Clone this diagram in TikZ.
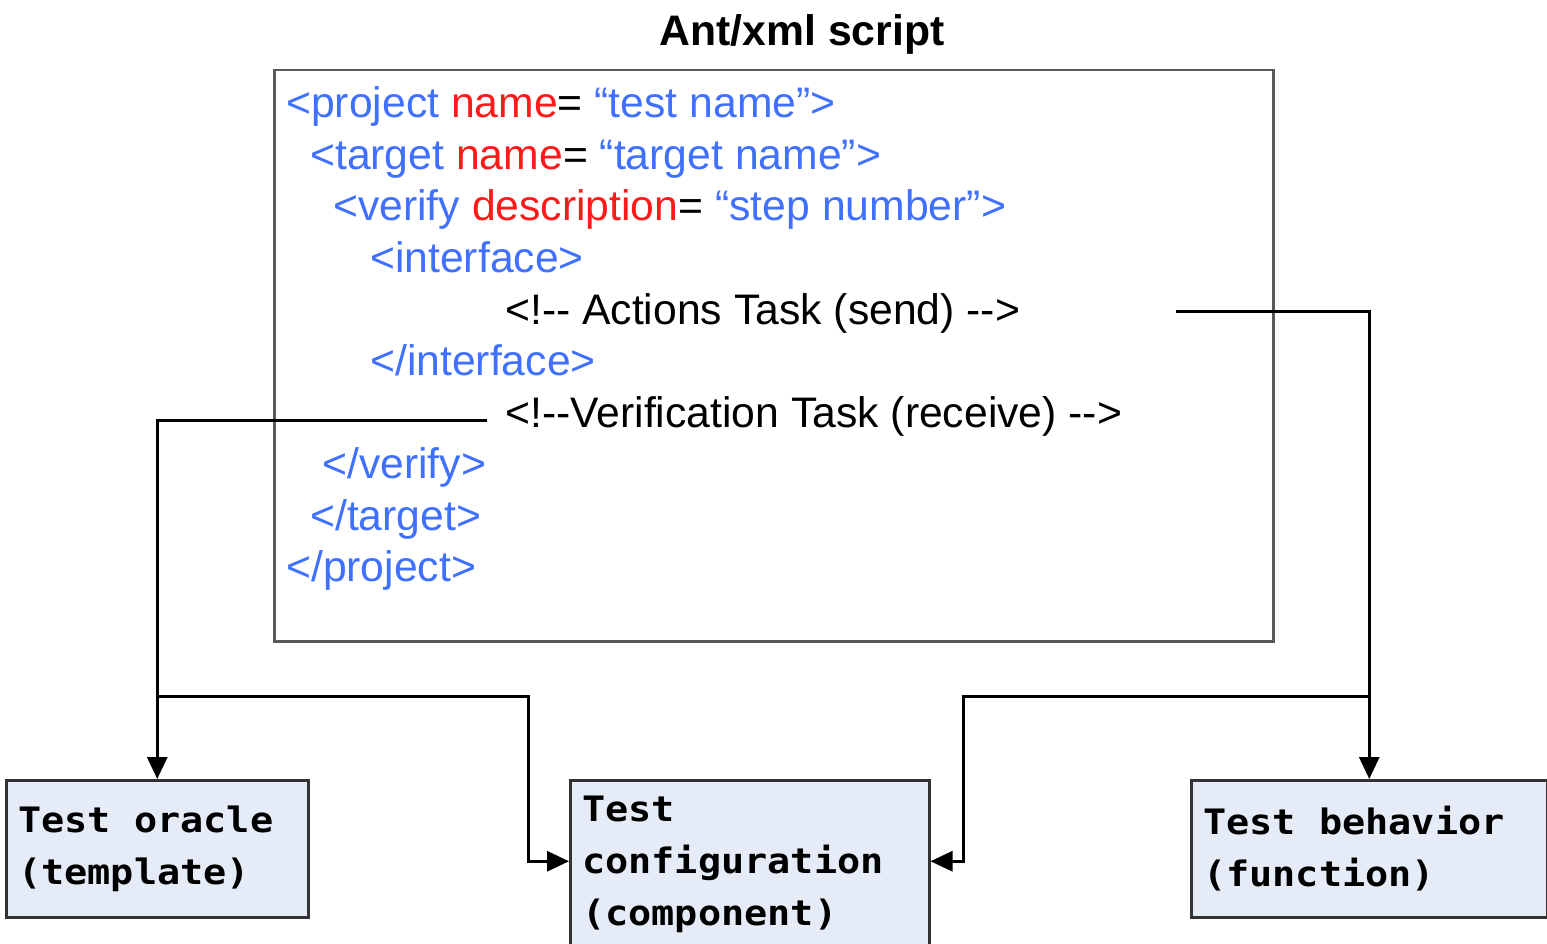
\documentclass[tikz,border=0pt]{standalone}
\usepackage{fontspec}
\usetikzlibrary{arrows.meta}
\newfontfamily\codefont{Liberation Sans}
\newfontfamily\boxfont{DejaVu Sans Mono}[FakeStretch=1.1]
\definecolor{tagblue}{HTML}{4070FF}
\definecolor{attrred}{HTML}{FF1A1A}
\definecolor{boxfill}{HTML}{E6ECF7}
\definecolor{frame}{HTML}{5A5A5A}
% two hyphens that must not merge into a dash
\newcommand{\hh}{-\kern0pt-}
% a blank as wide as one monospaced character
\newcommand{\msp}{\phantom{x}}

\begin{document}
\begin{tikzpicture}[x=1pt,y=-1pt,
  code/.style={anchor=base west, inner sep=0pt,
    font=\codefont\fontsize{42.7}{51}\selectfont},
  conn/.style={line width=3pt, -{Triangle[length=22pt,width=20pt]}},
  outbox/.style={draw=black!80, line width=2.5pt, fill=boxfill,
    anchor=north west, align=left, inner xsep=12pt, inner ysep=0pt,
    font=\boxfont\bfseries\fontsize{35}{52}\selectfont}
]
\useasboundingbox (0,0) rectangle (1547,944);
\clip (0,0) rectangle (1547,944);
\fill[white] (0,0) rectangle (1547,944);

% title and script frame
\node[anchor=base, inner sep=0pt, font=\codefont\bfseries\fontsize{42.7}{51}\selectfont]
  (title) at (802,46) {Ant/xml script};
\node[draw=frame, line width=2.5pt, anchor=north west, inner sep=0pt,
  minimum width=999pt, minimum height=571pt] (script) at (273,69) {};

% script lines
\node[code] (l1) at (286,118) {\textcolor{tagblue}{<project }\textcolor{attrred}{name}= \textcolor{tagblue}{“test name”>}};
\node[code] (l2) at (310,169.5) {\textcolor{tagblue}{<target }\textcolor{attrred}{name}= \textcolor{tagblue}{“target name”>}};
\node[code] (l3) at (333,221) {\textcolor{tagblue}{<verify }\textcolor{attrred}{description}= \textcolor{tagblue}{“step number”>}};
\node[code] (l4) at (370,272.5) {\textcolor{tagblue}{<interface>}};
\node[code] (l5) at (505,324) {<!\hh{} Actions Task (send) \hh>};
\node[code] (l6) at (370,375.5) {\textcolor{tagblue}{</interface>}};
\node[code] (l7) at (505,427) {<!\hh Verification Task (receive) \hh>};
\node[code] (l8) at (322,478.5) {\textcolor{tagblue}{</verify>}};
\node[code] (l9) at (310,530) {\textcolor{tagblue}{</target>}};
\node[code] (l10) at (286,581.5) {\textcolor{tagblue}{</project>}};

% output boxes
\node[outbox, text width=278pt, minimum height=137pt] (oracle) at (5,779)
  {Test\msp oracle\\(template)};
\node[outbox, text width=335pt, minimum height=168pt] (config) at (569,779)
  {Test\\configuration\\(component)};
\node[outbox, text width=332pt, minimum height=137pt] (behavior) at (1190,779)
  {Test\msp behavior\\(function)};

% connector end points and branch points
\coordinate (actout) at (1176,311);
\coordinate (verout) at (487,420);
\coordinate (lj) at (156,696);
\coordinate (lk) at (528,696);
\coordinate (rj) at (1368,696);
\coordinate (rk) at (963,696);

\draw[conn] (actout) -| (behavior.north);
\draw[conn] (verout) -| (oracle.north);
\draw[conn] (lj) -- (lk) |- ([yshift=3pt]config.west);
\draw[conn] (rj) -- (rk) |- ([yshift=3pt]config.east);
\end{tikzpicture}
\end{document}
